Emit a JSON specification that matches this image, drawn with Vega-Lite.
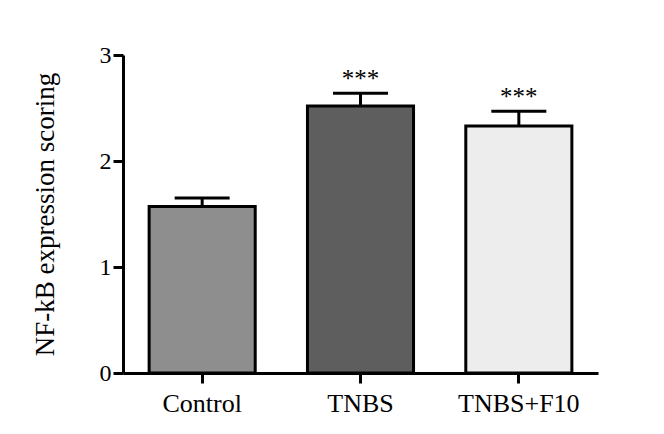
{
  "$schema": "https://vega.github.io/schema/vega-lite/v6.json",
  "autosize": "none",
  "width": 475,
  "height": 318,
  "padding": {"left": 123, "top": 55, "right": 66, "bottom": 61},
  "background": "white",
  "config": {
    "view": {"stroke": null},
    "font": "Liberation Serif"
  },
  "data": {
    "values": [
      {"group": "Control", "mean": 1.57, "upper": 1.65, "sig": ""},
      {"group": "TNBS", "mean": 2.52, "upper": 2.64, "sig": "***"},
      {"group": "TNBS+F10", "mean": 2.33, "upper": 2.47, "sig": "***"}
    ]
  },
  "encoding": {
    "x": {
      "field": "group",
      "type": "nominal",
      "sort": ["Control", "TNBS", "TNBS+F10"],
      "scale": {"paddingInner": 0.33, "paddingOuter": 0.165},
      "axis": {
        "title": null,
        "labelAngle": 0,
        "labelFont": "Liberation Serif",
        "labelFontSize": 26,
        "labelColor": "black",
        "labelPadding": 7,
        "domainColor": "black",
        "domainOpacity": 1,
        "domainWidth": 3,
        "tickColor": "black",
        "tickOpacity": 1,
        "tickWidth": 3,
        "tickSize": 10
      }
    }
  },
  "layer": [
    {
      "mark": {"type": "bar", "stroke": "black", "strokeWidth": 3},
      "encoding": {
        "y": {
          "field": "mean",
          "type": "quantitative",
          "scale": {"domain": [0, 3], "nice": false},
          "axis": {
            "title": "NF-kB expression scoring",
            "titleFont": "Liberation Serif",
            "titleFontSize": 27,
            "titleFontWeight": "normal",
            "titleColor": "black",
            "titleX": -78,
            "titleY": 159,
            "titleAngle": -90,
            "titleBaseline": "middle",
            "titleAlign": "center",
            "values": [0, 1, 2, 3],
            "format": "d",
            "grid": false,
            "labelFont": "Liberation Serif",
            "labelFontSize": 24,
            "labelColor": "black",
            "labelPadding": 2,
            "domainColor": "black",
            "domainOpacity": 1,
            "domainWidth": 3,
            "tickColor": "black",
            "tickOpacity": 1,
            "tickWidth": 3,
            "tickSize": 10
          }
        },
        "color": {
          "field": "group",
          "type": "nominal",
          "scale": {"domain": ["Control", "TNBS", "TNBS+F10"], "range": ["#8e8e8e", "#5e5e5e", "#ededed"]},
          "legend": null
        }
      }
    },
    {
      "mark": {"type": "rule", "color": "black", "strokeWidth": 3},
      "encoding": {
        "y": {"field": "mean", "type": "quantitative"},
        "y2": {"field": "upper"}
      }
    },
    {
      "mark": {"type": "tick", "color": "black", "opacity": 1, "thickness": 3, "size": 55},
      "encoding": {
        "y": {"field": "upper", "type": "quantitative"}
      }
    },
    {
      "mark": {"type": "text", "fontSize": 25, "font": "Liberation Serif", "baseline": "alphabetic", "dy": -6, "color": "black"},
      "encoding": {
        "y": {"field": "upper", "type": "quantitative"},
        "text": {"field": "sig"}
      }
    }
  ]
}
